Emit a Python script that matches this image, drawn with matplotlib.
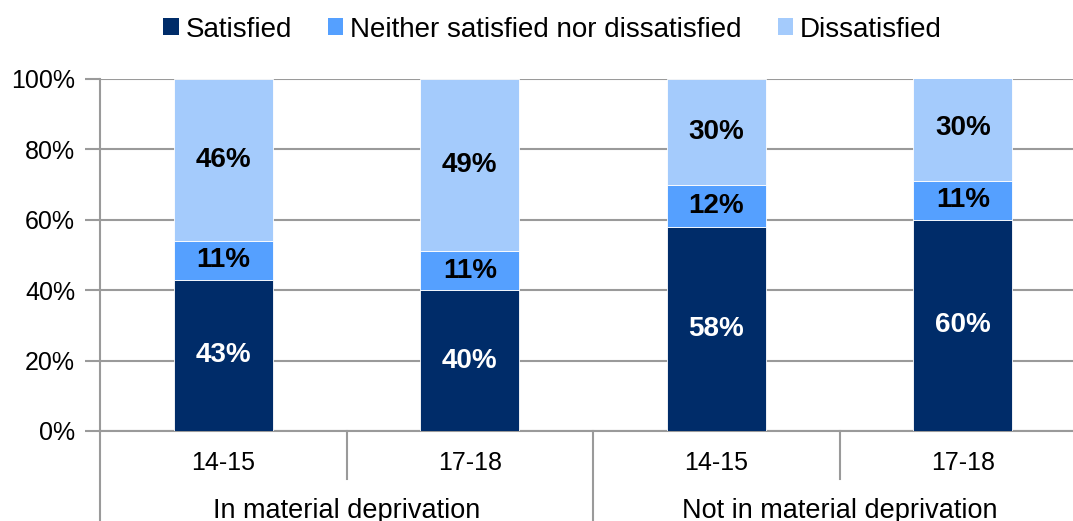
import matplotlib
matplotlib.use("Agg")
import matplotlib.pyplot as plt
from matplotlib.patches import Patch
import numpy as np

plt.rcParams["font.family"] = ["Liberation Sans", "DejaVu Sans"]

years = ["14-15", "17-18", "14-15", "17-18"]
groups = ["In material deprivation", "Not in material deprivation"]
satisfied = [43, 40, 58, 60]
neither = [11, 11, 12, 11]
dissatisfied = [46, 49, 30, 30]

series = [
    ("Satisfied", satisfied, "#002c69", "white"),
    ("Neither satisfied nor dissatisfied", neither, "#55a0ff", "black"),
    ("Dissatisfied", dissatisfied, "#a4cbfc", "black"),
]

grid_c = "#9a9a9a"
fig = plt.figure(figsize=(10.73, 5.21), dpi=100)
ax = fig.add_axes([100 / 1073, 90 / 521, 986 / 1073, 352 / 521])

x = np.arange(len(years))
bottom = np.zeros(len(years))
for name, vals, col, tcol in series:
    vals = np.array(vals, dtype=float)
    ax.bar(x, vals, 0.4, bottom=bottom, color=col, edgecolor="white",
           linewidth=0.6, zorder=3, label=name)
    for xi, b, v in zip(x, bottom, vals):
        ax.text(xi, b + v / 2, f"{v:.0f}%", ha="center", va="center",
                fontsize=20, fontweight="bold", color=tcol, zorder=4)
    bottom += vals

ax.set_xlim(-0.5, 3.5)
ax.set_ylim(0, 100)
ax.set_yticks(range(0, 101, 20))
ax.set_yticklabels([f"{v}%" for v in range(0, 101, 20)], fontsize=18)
ax.yaxis.grid(True, color=grid_c, linewidth=1.5, zorder=0)
ax.tick_params(axis="y", length=11, width=1.5, color=grid_c, pad=7)
ax.set_xticks([])
for s in ["top", "right"]:
    ax.spines[s].set_visible(False)
ax.spines["left"].set_color(grid_c)
ax.spines["left"].set_linewidth(1.5)
ax.spines["bottom"].set_color(grid_c)
ax.spines["bottom"].set_linewidth(1.5)

# two-level category axis below the bars
tr = ax.get_xaxis_transform()
for xi, yr in zip(x, years):
    ax.text(xi, -0.09, yr, transform=tr, ha="center", va="center", fontsize=18)
for gi, g in enumerate(groups):
    ax.text(gi * 2 + 0.5, -0.226, g, transform=tr, ha="center", va="center",
            fontsize=19.5)
for xs in [0.5, 2.5]:
    ax.plot([xs, xs], [0, -0.137], transform=tr, color=grid_c, lw=1.5,
            clip_on=False)
for xs in [-0.5, 1.5]:
    ax.plot([xs, xs], [0, -0.3], transform=tr, color=grid_c, lw=1.5,
            clip_on=False)

handles = [Patch(facecolor=c, edgecolor="none", label=n) for n, _, c, _ in series]
fig.legend(handles=handles, loc="upper center", bbox_to_anchor=(0.515, 1.016),
           ncol=3, frameon=False, fontsize=20, handlelength=0.55,
           handleheight=0.55, handletextpad=0.25, columnspacing=1.3)

fig.savefig("out.png", dpi=100)
